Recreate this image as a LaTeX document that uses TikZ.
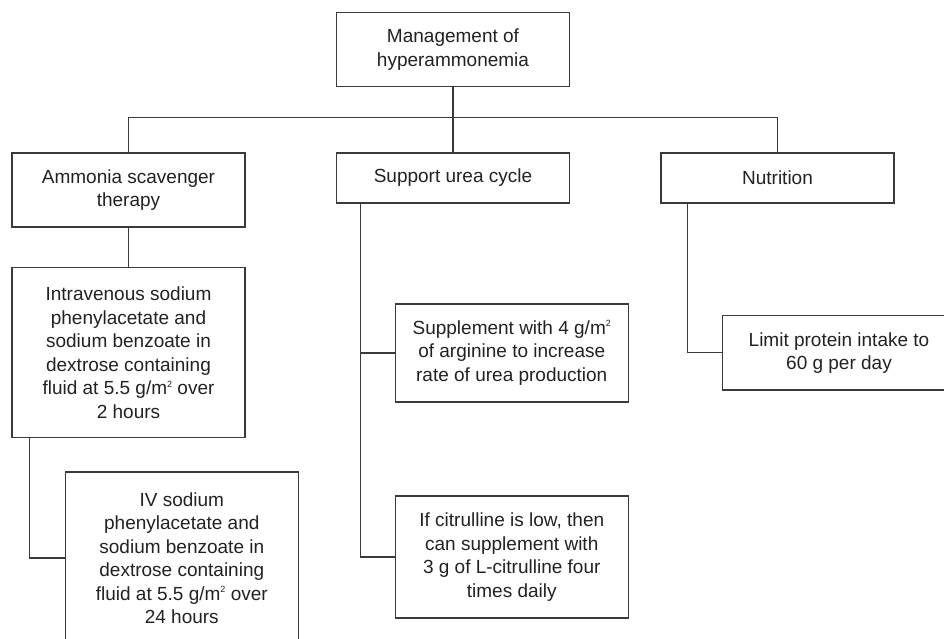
\documentclass[tikz,border=0pt]{standalone}
\usepackage{fontspec}
\setmainfont{Liberation Sans}
\definecolor{linec}{HTML}{3A3A3A}
\definecolor{textc}{HTML}{222222}
\newcommand{\sqsup}{\raisebox{0.75ex}{\fontsize{9pt}{9pt}\selectfont 2}}
\tikzset{
  box/.style={draw=linec, line width=1.2pt, align=center, inner sep=0pt,
    minimum width=233pt, text=textc,
    font=\fontsize{19pt}{23.5pt}\selectfont},
  conn/.style={draw=linec, line width=1.2pt}
}
\begin{document}
\begin{tikzpicture}[x=1pt,y=-1pt]
\useasboundingbox (0,0) rectangle (944,639);
\clip (0,0) rectangle (944,639);
\fill[white] (0,0) rectangle (944,639);
\node[box, minimum height=74.4pt] (top) at (453,49.5) {Management of\\hyperammonemia};
\node[box, minimum height=74pt] (ammonia) at (128.5,190) {Ammonia scavenger\\therapy};
\node[box, minimum height=50pt] (support) at (453,178) {Support urea cycle};
\node[box, minimum height=50pt] (nutrition) at (777.5,178) {Nutrition};
\node[box, minimum height=170pt] (intra) at (128.5,352.7) {Intravenous sodium\\phenylacetate and\\sodium benzoate in\\dextrose containing\\fluid at 5.5 g/m\sqsup{} over\\2 hours};
\node[box, minimum height=98pt] (suppl) at (511.75,353) {Supplement with 4 g/m\sqsup\\of arginine to increase\\rate of urea production};
\node[box, minimum height=74.3pt] (limit) at (839,352.85) {Limit protein intake to\\60 g per day};
\node[box, minimum height=122pt] (citr) at (511.75,557) {If citrulline is low, then\\can supplement with\\3 g of L-citrulline four\\times daily};
\node[box, minimum height=172pt] (iv) at (181.8,558) {IV sodium\\phenylacetate and\\sodium benzoate in\\dextrose containing\\fluid at 5.5 g/m\sqsup{} over\\24 hours};
\coordinate (bar) at (453,117.7);
\draw[conn] (top.south) -- (bar);
\draw[conn] (ammonia.north) |- (bar) -| (nutrition.north);
\draw[conn] (bar) -- (support.north);
\draw[conn] (ammonia.south) -- (intra.north);
\coordinate (iv0) at ([xshift=18pt]intra.south west);
\draw[conn] (iv0) |- (iv.west);
\coordinate (sv) at ([xshift=24.5pt]support.south west);
\draw[conn] (sv) |- (citr.west);
\draw[conn] (suppl.west) -- (suppl.west -| sv);
\coordinate (nv) at ([xshift=27pt]nutrition.south west);
\draw[conn] (nv) |- (limit.west);
\end{tikzpicture}
\end{document}
